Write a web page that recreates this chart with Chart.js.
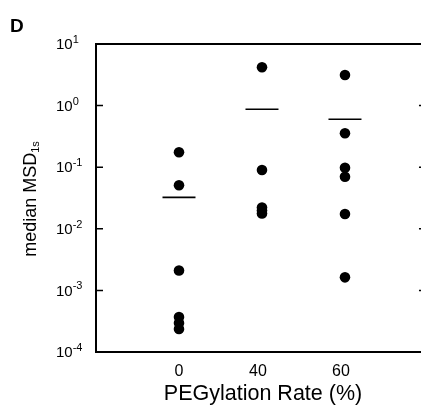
<!DOCTYPE html>
<html>
<head>
<meta charset="utf-8">
<script src="https://cdn.jsdelivr.net/npm/chart.js@4.4.1/dist/chart.umd.min.js"></script>
<style>
html,body{margin:0;padding:0;overflow:hidden;background:#fff;width:421px;height:419px;}
canvas{display:block;}
</style>
</head>
<body>
<canvas id="c" width="421" height="419" style="width:421px;height:419px"></canvas>
<script>
const categories = ["0", "40", "60"];
const group0 = [0.175, 0.051, 0.0021, 0.00037, 0.000296, 0.000236];
const group40 = [4.19, 0.090, 0.0222, 0.0198, 0.0177];
const group60 = [3.14, 0.355, 0.098, 0.070, 0.0174, 0.00163];
const medians = [0.0324, 0.871, 0.60];
const yTickExponents = [1, 0, -1, -2, -3, -4];
const panelLabel = "D";
const xTitle = "PEGylation Rate (%)";
const yTitleMain = "median MSD";
const yTitleSub = "1s";

const FONT = '"Liberation Sans", Arial, Helvetica, sans-serif';
const X_MIN = -1, X_MAX_VISIBLE = 2.916, X_RIGHT_AXIS = 2.976;
const groups = [group0, group40, group60];
const pts = [];
groups.forEach((g, i) => g.forEach(v => pts.push({x: i, y: v})));
const medPts = medians.map((v, i) => ({x: i, y: v}));

const deco = {
  id: 'deco',
  afterDraw(chart) {
    const ctx = chart.ctx;
    const xs = chart.scales.x, ys = chart.scales.y;
    const a = chart.chartArea;
    const W = chart.width;
    const rx = xs.getPixelForValue(X_RIGHT_AXIS);
    ctx.save();
    ctx.strokeStyle = '#000';
    ctx.fillStyle = '#000';
    ctx.lineWidth = 2;
    // frame
    ctx.beginPath();
    ctx.moveTo(a.left, a.top); ctx.lineTo(a.left, a.bottom);
    ctx.moveTo(a.left - 1, a.top); ctx.lineTo(W, a.top);
    ctx.moveTo(a.left - 1, a.bottom); ctx.lineTo(W, a.bottom);
    ctx.stroke();
    // ticks
    ctx.lineWidth = 1.5;
    yTickExponents.forEach(e => {
      const y = ys.getPixelForValue(Math.pow(10, e));
      if (e === 1 || e === -4) return;
      ctx.beginPath();
      ctx.moveTo(a.left, y); ctx.lineTo(a.left + 7, y);
      ctx.moveTo(rx, y); ctx.lineTo(rx - 7, y);
      ctx.stroke();
    });
    // y tick labels
    yTickExponents.forEach(e => {
      const y = ys.getPixelForValue(Math.pow(10, e));
      ctx.font = '15px ' + FONT;
      ctx.textAlign = 'left';
      ctx.textBaseline = 'middle';
      ctx.fillText('10', 56, y + 1);
      const w = ctx.measureText('10').width;
      ctx.font = '11px ' + FONT;
      ctx.textBaseline = 'alphabetic';
      ctx.fillText(e < 0 ? '-' + Math.abs(e) : String(e), 56 + w, y - 1);
    });
    // x tick labels
    ctx.font = '16px ' + FONT;
    ctx.textAlign = 'center';
    ctx.textBaseline = 'middle';
    categories.forEach((c, i) => {
      ctx.fillText(c, xs.getPixelForValue(i) - (i > 0 ? 4 : 0), a.bottom + 20);
    });
    // x title
    ctx.font = '21.5px ' + FONT;
    ctx.fillText(xTitle, 263, a.bottom + 42);
    // y title
    ctx.save();
    ctx.translate(36, 0);
    ctx.rotate(-Math.PI / 2);
    ctx.font = '18px ' + FONT;
    const mw = ctx.measureText(yTitleMain).width;
    ctx.font = '11px ' + FONT;
    const sw = ctx.measureText(yTitleSub).width;
    const total = mw + sw;
    const cy = 199;
    ctx.textAlign = 'left';
    ctx.textBaseline = 'alphabetic';
    ctx.font = '18px ' + FONT;
    ctx.fillText(yTitleMain, -cy - total / 2, 0);
    ctx.font = '11px ' + FONT;
    ctx.fillText(yTitleSub, -cy - total / 2 + mw, 3);
    ctx.restore();
    // panel label
    ctx.font = 'bold 19px ' + FONT;
    ctx.textAlign = 'left';
    ctx.textBaseline = 'alphabetic';
    ctx.fillText(panelLabel, 10, 32);
    ctx.restore();
  }
};

new Chart(document.getElementById('c'), {
  type: 'scatter',
  data: {
    datasets: [
      {data: pts, pointRadius: 5.3, pointHoverRadius: 5.3, backgroundColor: '#000', borderWidth: 0},
      {data: medPts, pointStyle: 'line', pointRadius: 16.5, pointHoverRadius: 16.5, borderColor: '#000', borderWidth: 1.6, backgroundColor: '#000'}
    ]
  },
  options: {
    responsive: false,
    animation: false,
    devicePixelRatio: 1,
    layout: {autoPadding: false, padding: {left: 96, right: 0, top: 44, bottom: 67}},
    plugins: {legend: {display: false}, tooltip: {enabled: false}},
    scales: {
      x: {type: 'linear', min: X_MIN, max: X_MAX_VISIBLE, display: false},
      y: {type: 'logarithmic', min: 1e-4, max: 10, display: false}
    }
  },
  plugins: [deco]
});
</script>
</body>
</html>
